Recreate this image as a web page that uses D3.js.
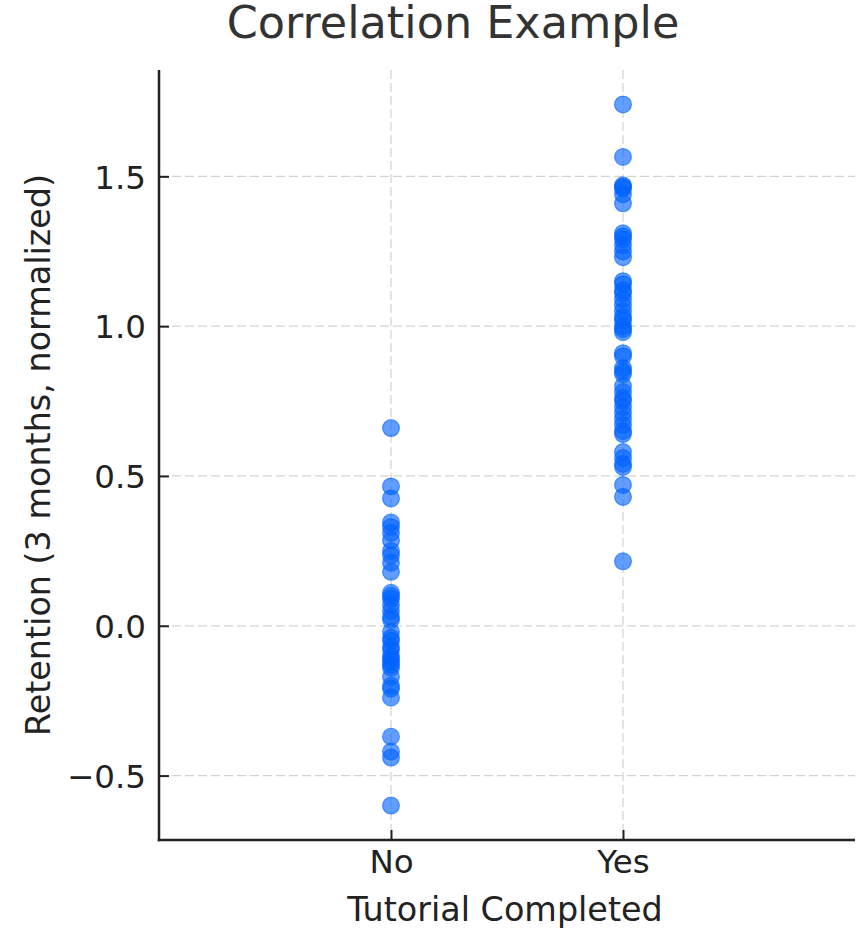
<!DOCTYPE html>
<html>
<head>
<meta charset="utf-8">
<script src="https://cdn.jsdelivr.net/npm/d3@7"></script>
<style>
  html, body { margin: 0; padding: 0; background: #fff; }
  svg { display: block; font-family: "DejaVu Sans", sans-serif; }
</style>
</head>
<body>
<svg id="chart" width="859" height="931"></svg>
<script>
const categories = ["No", "Yes"];
const yTicks = [-0.5, 0.0, 0.5, 1.0, 1.5];
const noValues = [0.66, 0.465, 0.425, 0.345, 0.33, 0.31, 0.285, 0.25, 0.235, 0.21, 0.18,
  0.11, 0.10, 0.09, 0.07, 0.05, 0.03, 0.02, -0.02, -0.04, -0.05, -0.07, -0.08, -0.10,
  -0.11, -0.12, -0.13, -0.14, -0.17, -0.20, -0.21, -0.24, -0.37, -0.42, -0.44, -0.60];
const yesValues = [1.74, 1.565, 1.47, 1.465, 1.46, 1.44, 1.41, 1.31, 1.30, 1.29, 1.27,
  1.25, 1.23, 1.15, 1.14, 1.12, 1.11, 1.09, 1.07, 1.05, 1.03, 1.02, 1.00, 0.99, 0.98,
  0.91, 0.90, 0.86, 0.85, 0.84, 0.80, 0.78, 0.76, 0.75, 0.73, 0.71, 0.69, 0.67, 0.65,
  0.64, 0.58, 0.56, 0.54, 0.53, 0.47, 0.43, 0.215];
const seriesValues = [noValues, yesValues];
const title = "Correlation Example";
const xLabel = "Tutorial Completed";
const yLabel = "Retention (3 months, normalized)";

(function () {
const svg = d3.select("#chart");
const pL = 159, pR = 855, pT = 70, pB = 840;

const x = d3.scaleLinear().domain([-1, 2]).range([pL, pR]);
const y = d3.scaleLinear().domain([-0.715, 1.855]).range([pB, pT]);

const points = [];
categories.forEach((c, i) => seriesValues[i].forEach(v => points.push({ i, v })));

// grid
const grid = svg.append("g");
grid.selectAll("line.h").data(yTicks).enter().append("line")
  .attr("x1", pL).attr("x2", pR)
  .attr("y1", d => y(d)).attr("y2", d => y(d))
  .attr("stroke", "#d3d3d3").attr("stroke-width", 1.2).attr("stroke-dasharray", "9,4");
grid.selectAll("line.v").data(categories).enter().append("line")
  .attr("x1", (d, i) => x(i)).attr("x2", (d, i) => x(i))
  .attr("y1", pT).attr("y2", pB)
  .attr("stroke", "#d3d3d3").attr("stroke-width", 1.2).attr("stroke-dasharray", "9,4");

// points
svg.append("g").selectAll("circle").data(points).enter().append("circle")
  .attr("cx", d => x(d.i)).attr("cy", d => y(d.v)).attr("r", 8.4)
  .attr("fill", "#0062ff").attr("fill-opacity", 0.62)
  .attr("stroke", "#0062ff").attr("stroke-opacity", 0.62).attr("stroke-width", 1.2);

// y axis
const yAxis = d3.axisLeft(y).tickValues(yTicks).tickSize(-10).tickPadding(13)
  .tickFormat(d => d3.format(".1f")(d).replace("-", "\u2212"));
const gy = svg.append("g").attr("transform", `translate(${pL},0)`).call(yAxis);
gy.select(".domain").remove();
gy.selectAll(".tick line").attr("stroke", "#222").attr("stroke-width", 2);
gy.selectAll(".tick text").attr("font-size", 32.5).attr("fill", "#222")
  .attr("font-family", "DejaVu Sans").attr("dy", "0.36em");

// x axis
const xAxis = d3.axisBottom(x).tickValues(categories.map((c, i) => i)).tickSize(-10).tickPadding(13)
  .tickFormat(d => categories[d]);
const gx = svg.append("g").attr("transform", `translate(0,${pB})`).call(xAxis);
gx.select(".domain").remove();
gx.selectAll(".tick line").attr("stroke", "#222").attr("stroke-width", 2);
gx.selectAll(".tick text").attr("font-size", 32.5).attr("fill", "#222")
  .attr("font-family", "DejaVu Sans").attr("dy", "0.62em");

// spines
svg.append("line").attr("x1", pL).attr("x2", pL).attr("y1", pT).attr("y2", pB + 1.25)
  .attr("stroke", "#222").attr("stroke-width", 2.5);
svg.append("line").attr("x1", pL - 1.25).attr("x2", pR).attr("y1", pB).attr("y2", pB)
  .attr("stroke", "#222").attr("stroke-width", 2.5);

// labels
svg.append("text").attr("x", 453).attr("y", 38).attr("text-anchor", "middle")
  .attr("font-size", 44.5).attr("fill", "#333").text(title);
svg.append("text").attr("x", 505).attr("y", 921).attr("text-anchor", "middle")
  .attr("font-size", 33.4).attr("fill", "#222").text(xLabel);
svg.append("text").attr("transform", `translate(50,${(pT + pB) / 2}) rotate(-90)`)
  .attr("text-anchor", "middle").attr("font-size", 33.4).attr("fill", "#222").text(yLabel);
})();
</script>
</body>
</html>
